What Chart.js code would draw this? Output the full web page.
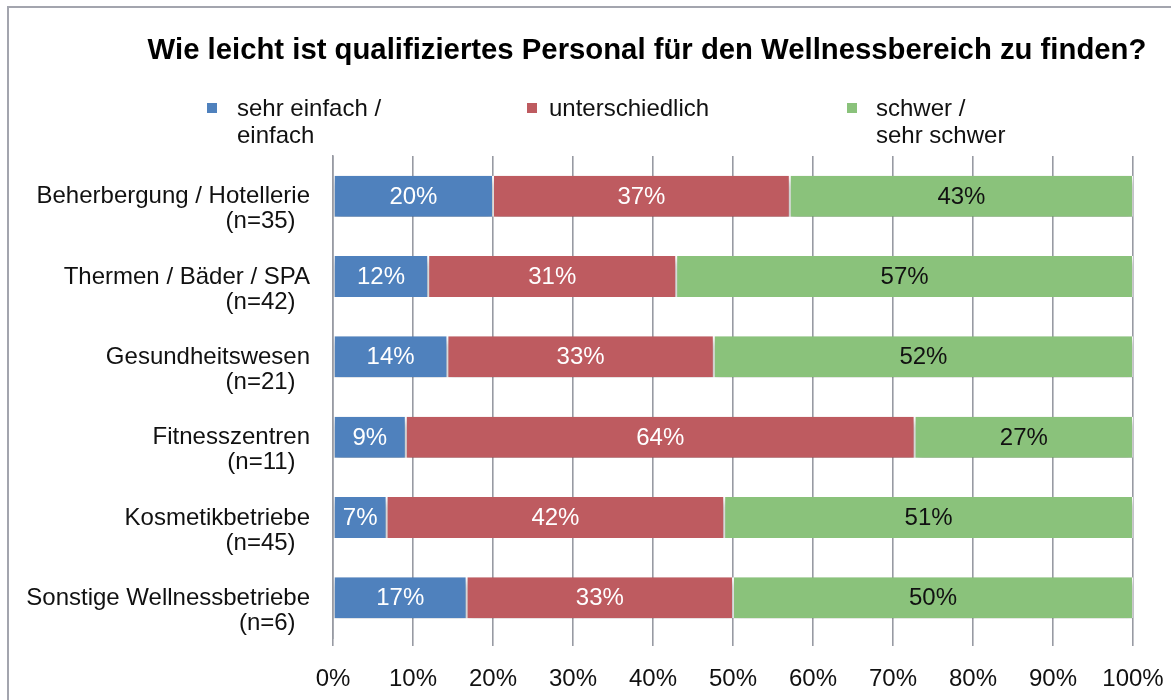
<!DOCTYPE html>
<html>
<head>
<meta charset="utf-8">
<script src="https://cdn.jsdelivr.net/npm/chart.js@4.4.1/dist/chart.umd.min.js"></script>
<style>
  html, body { margin: 0; padding: 0; background: #ffffff; }
  #wrap { width: 1171px; height: 700px; position: relative; }
</style>
</head>
<body>
<div id="wrap"><canvas id="c" width="1171" height="700"></canvas></div>
<script>
const chartTitle = "Wie leicht ist qualifiziertes Personal für den Wellnessbereich zu finden?";
const categories = [
  ["Beherbergung / Hotellerie", "(n=35)"],
  ["Thermen / Bäder / SPA", "(n=42)"],
  ["Gesundheitswesen", "(n=21)"],
  ["Fitnesszentren", "(n=11)"],
  ["Kosmetikbetriebe", "(n=45)"],
  ["Sonstige Wellnessbetriebe", "(n=6)"]
];
const seriesNames = [["sehr einfach /", "einfach"], ["unterschiedlich"], ["schwer /", "sehr schwer"]];
const easy  = [20.0, 11.9, 14.3, 9.1, 6.7, 16.7];
const mixed = [37.1, 31.0, 33.3, 63.6, 42.2, 33.3];
const hard  = [42.9, 57.1, 52.4, 27.3, 51.1, 50.0];
const xTicks = [0, 10, 20, 30, 40, 50, 60, 70, 80, 90, 100];

const colors = ["#4F81BD", "#BE5B60", "#8AC27B"];
const labelColors = ["#ffffff", "#ffffff", "#111111"];
const FONT = "'Liberation Sans', Arial, sans-serif";

const shadowPlugin = {
  id: 'shadow',
  beforeDatasetsDraw(chart) {
    const ctx = chart.ctx;
    ctx.save();
    ctx.shadowColor = 'rgba(0,0,0,0.38)';
    ctx.shadowBlur = 8;
    ctx.shadowOffsetX = 1;
    ctx.shadowOffsetY = 5;
  },
  afterDatasetsDraw(chart) {
    chart.ctx.restore();
  }
};

const decorPlugin = {
  id: 'decor',
  beforeDraw(chart) {
    const ctx = chart.ctx;
    ctx.save();
    ctx.fillStyle = '#ffffff';
    ctx.fillRect(0, 0, chart.width, chart.height);
    ctx.strokeStyle = '#A3A5AE';
    ctx.lineWidth = 2;
    ctx.strokeRect(8, 7, chart.width + 20, chart.height + 20);
    ctx.restore();
  },
  afterDraw(chart) {
    const ctx = chart.ctx;
    ctx.save();
    // title
    ctx.fillStyle = '#000000';
    ctx.font = "bold 29.3px " + FONT;
    ctx.textAlign = 'center';
    ctx.textBaseline = 'middle';
    ctx.fillText(chartTitle, 647, 51);
    // legend
    const lx = [207, 527, 847];
    const tx = [237, 549, 876];
    ctx.font = "24px " + FONT;
    ctx.textAlign = 'left';
    seriesNames.forEach((lines, i) => {
      ctx.fillStyle = colors[i];
      ctx.fillRect(lx[i], 103, 10, 10);
      ctx.fillStyle = '#111111';
      lines.forEach((t, j) => ctx.fillText(t, tx[i], 109 + j * 27));
    });
    // value labels
    ctx.font = "24px " + FONT;
    ctx.textAlign = 'center';
    chart.data.datasets.forEach((ds, di) => {
      const meta = chart.getDatasetMeta(di);
      meta.data.forEach((bar, i) => {
        const v = ds.data[i];
        const cx = (bar.x + bar.base) / 2;
        ctx.fillStyle = labelColors[di];
        ctx.fillText(Math.round(v) + '%', cx, bar.y + 1);
      });
    });
    ctx.restore();
  }
};

new Chart(document.getElementById('c'), {
  type: 'bar',
  data: {
    labels: categories,
    datasets: [
      { label: seriesNames[0].join(' '), data: easy, backgroundColor: colors[0] },
      { label: seriesNames[1].join(' '), data: mixed, backgroundColor: colors[1] },
      { label: seriesNames[2].join(' '), data: hard, backgroundColor: colors[2] }
    ]
  },
  options: {
    indexAxis: 'y',
    responsive: false,
    animation: false,
    devicePixelRatio: 1,
    layout: { padding: { top: 156, right: 38, bottom: 0, left: 0 } },
    datasets: {
      bar: {
        categoryPercentage: 1.0,
        barPercentage: 0.51,
        borderColor: '#ffffff',
        borderWidth: { left: 1, right: 1, top: 0, bottom: 0 },
        borderSkipped: false
      }
    },
    plugins: {
      legend: { display: false },
      title: { display: false },
      tooltip: { enabled: false }
    },
    scales: {
      x: {
        stacked: true,
        min: 0,
        max: 100,
        afterBuildTicks(scale) { scale.ticks = xTicks.map(v => ({ value: v })); },
        afterFit(scale) { scale.height = 62; scale.paddingLeft = 0; scale.paddingRight = 0; },
        grid: { color: '#989AA3', lineWidth: 1.6, tickLength: 8, drawTicks: true },
        border: { display: false },
        ticks: {
          padding: 19,
          color: '#111111',
          font: { family: FONT, size: 24, lineHeight: 1.2 },
          callback: (v) => v + '%'
        }
      },
      y: {
        stacked: true,
        afterFit(scale) { scale.width = 333; },
        grid: { display: false, drawTicks: false },
        border: { display: true, color: '#989AA3', width: 1.6 },
        ticks: {
          padding: 23,
          labelOffset: 13,
          color: '#111111',
          font: { family: FONT, size: 24, lineHeight: 1.04 },
          callback(value) {
            const lines = this.getLabelForValue(value);
            return [lines[0], lines[1] + '\u2009\u2009\u2009'];
          }
        }
      }
    }
  },
  plugins: [decorPlugin, shadowPlugin]
});
</script>
</body>
</html>
